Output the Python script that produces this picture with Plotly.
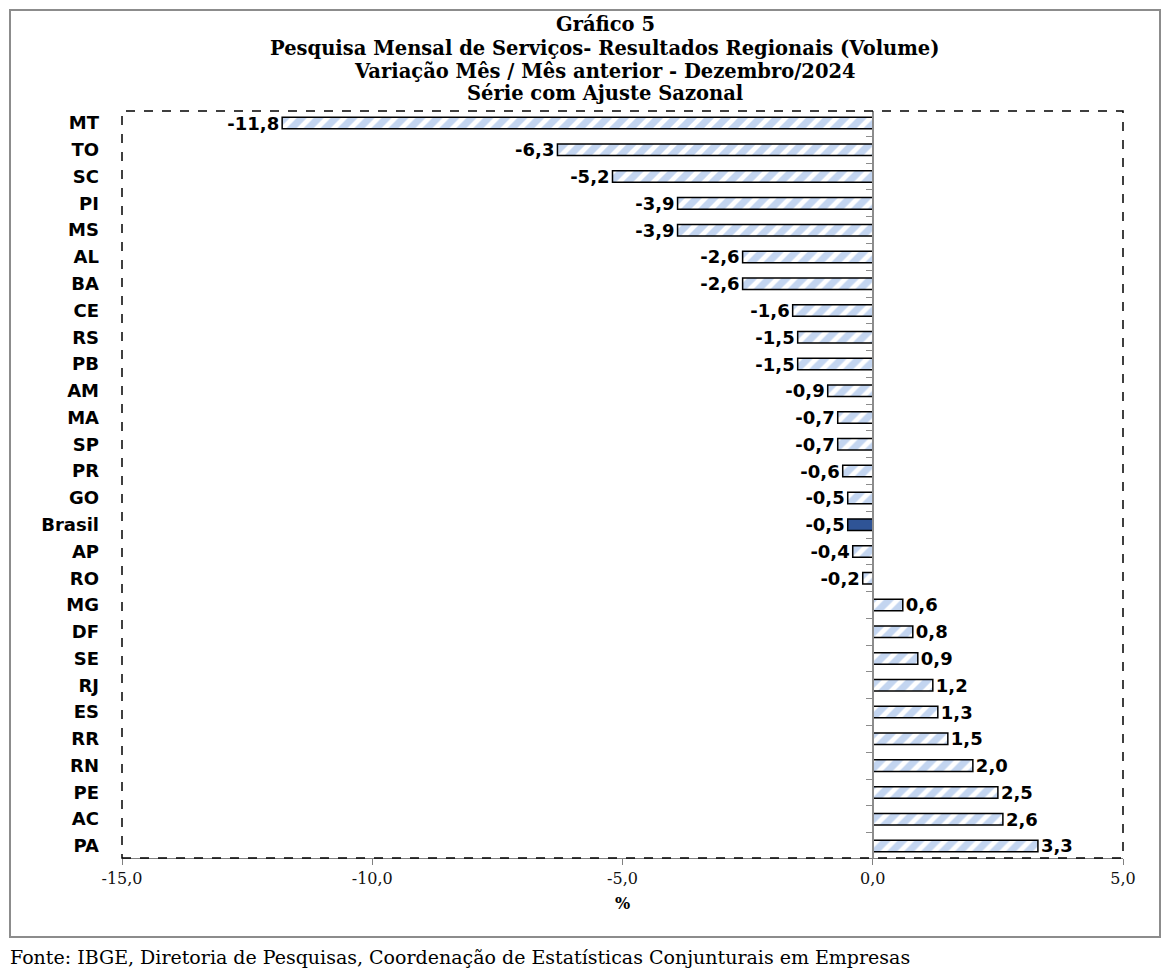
import plotly.graph_objects as go

categories = ["MT", "TO", "SC", "PI", "MS", "AL", "BA", "CE", "RS", "PB", "AM", "MA", "SP", "PR",
              "GO", "Brasil", "AP", "RO", "MG", "DF", "SE", "RJ", "ES", "RR", "RN", "PE", "AC", "PA"]
values = [-11.8, -6.3, -5.2, -3.9, -3.9, -2.6, -2.6, -1.6, -1.5, -1.5, -0.9, -0.7, -0.7, -0.6,
          -0.5, -0.5, -0.4, -0.2, 0.6, 0.8, 0.9, 1.2, 1.3, 1.5, 2.0, 2.5, 2.6, 3.3]
x_ticks = [-15, -10, -5, 0, 5]

title_lines = ["Gráfico 5",
               "Pesquisa Mensal de Serviços- Resultados Regionais (Volume)",
               "Variação Mês / Mês anterior - Dezembro/2024",
               "Série com Ajuste Sazonal"]
source_text = "Fonte: IBGE, Diretoria de Pesquisas, Coordenação de Estatísticas Conjunturais em Empresas"
x_title = "%"


def fmt(v):
    return f"{v:.1f}".replace(".", ",")


highlight = "Brasil"
bg_colors = ["#2f5496" if c == highlight else "#c3d5f0" for c in categories]
shapes_pat = ["" if c == highlight else "/" for c in categories]
labels = [fmt(v) for v in values]
tick_text = [fmt(v) for v in x_ticks]

# page has an 8px body margin; work in page pixels and convert
OFF = 8
W, H = 1170 - 2 * OFF, 976 - 2 * OFF
PL, PR, PT, PB = 122, 1123, 111, 858   # plot area in page pixels
L, R, T, B = PL - OFF, W - (PR - OFF), PT - OFF, H - (PB - OFF)
pw, ph = PR - PL, PB - PT


def px(xp):
    return (xp - PL) / pw


def py(yp):
    return (PB - yp) / ph


n = len(categories)
cat_range = [n - 0.55, -0.45]

fig = go.Figure()
fig.add_trace(go.Bar(
    x=values, y=categories, orientation="h",
    width=0.43,
    marker=dict(color=bg_colors,
                line=dict(color="#000000", width=1.5),
                pattern=dict(shape=shapes_pat, fgcolor="#2b5fb0", fgopacity=1,
                             bgcolor=bg_colors, size=12, solidity=0.6,
                             fillmode="replace")),
    text=labels, textposition="outside", cliponaxis=False, constraintext="none",
    textfont=dict(family="DejaVu Sans", size=18, color="#000000", weight="bold"),
    hoverinfo="skip", showlegend=False,
))
# invisible trace to carry the category axis drawn at zero
fig.add_trace(go.Scatter(x=[0] * n, y=categories, yaxis="y2", mode="markers",
                         marker=dict(opacity=0, size=1), hoverinfo="skip", showlegend=False))

zero_pos = (0 - x_ticks[0]) / (x_ticks[-1] - x_ticks[0])

fig.update_layout(
    width=W, height=H,
    margin=dict(l=L, r=R, t=T, b=B),
    paper_bgcolor="white", plot_bgcolor="white",
    xaxis=dict(range=[x_ticks[0], x_ticks[-1]], tickvals=x_ticks, ticktext=tick_text,
               showgrid=False, zeroline=False,
               showline=True, linecolor="#808080", linewidth=1,
               ticks="outside", ticklen=6, tickcolor="#808080",
               tickfont=dict(family="DejaVu Serif", size=16, color="#111111"),
               title=dict(text=x_title, standoff=10,
                          font=dict(family="DejaVu Serif", size=16, color="#000000", weight="bold"))),
    yaxis=dict(categoryorder="array", categoryarray=categories, range=cat_range,
               showgrid=False, zeroline=False, showline=False, ticks="",
               ticklabelstandoff=22,
               tickfont=dict(family="DejaVu Sans", size=18, color="#000000", weight="bold")),
    yaxis2=dict(overlaying="y", anchor="free", position=zero_pos, side="left",
                categoryorder="array", categoryarray=categories, range=cat_range,
                showgrid=False, zeroline=False, showticklabels=False,
                showline=True, linecolor="#8c8c8c", linewidth=2,
                ticks="outside", ticklen=6, tickcolor="#8c8c8c", tickson="boundaries"),
)

# title lines
title_y = [25, 48, 71, 94]
for line, yp in zip(title_lines, title_y):
    fig.add_annotation(text=line, xref="paper", yref="paper", x=px(605), y=py(yp),
                       xanchor="center", yanchor="middle", showarrow=False,
                       font=dict(family="DejaVu Serif", size=19.5, color="#000000", weight="bold"))

# dashed plot-area frame
fig.add_shape(type="rect", xref="paper", yref="paper", x0=0, x1=1, y0=0, y1=1,
              line=dict(color="#000000", width=1.5, dash="dash"), layer="above")
# outer chart border
fig.add_shape(type="rect", xref="paper", yref="paper",
              x0=px(OFF + 2), x1=px(1160), y0=py(937), y1=py(OFF + 2),
              line=dict(color="#8c8c8c", width=2))
fig.add_annotation(text=source_text, xref="paper", yref="paper",
                   x=px(8), y=py(957), xanchor="left", yanchor="middle",
                   showarrow=False,
                   font=dict(family="DejaVu Serif", size=19, color="#000000"))

fig.write_html("out.html")
